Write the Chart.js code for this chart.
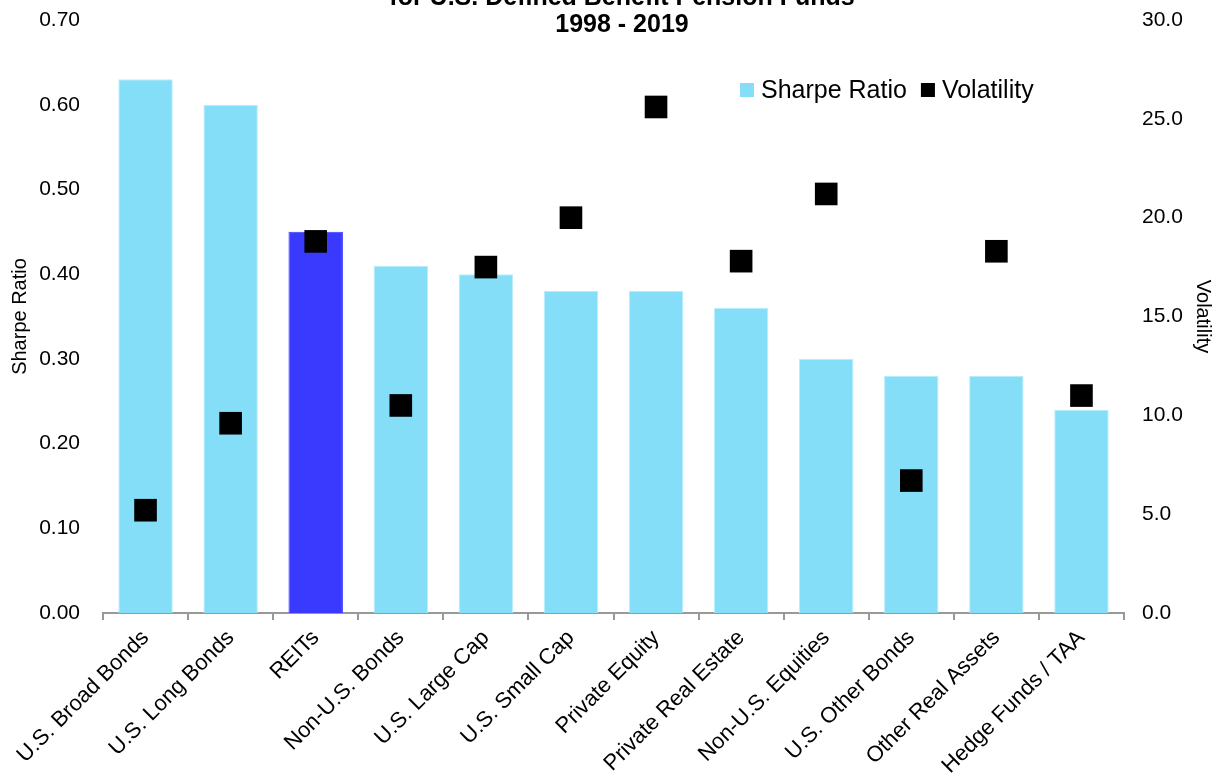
<!DOCTYPE html>
<html>
<head>
<meta charset="utf-8">
<script src="https://cdn.jsdelivr.net/npm/chart.js@4"></script>
<style>
  html, body { margin: 0; padding: 0; background: #fff; }
  #wrap { width: 1217px; height: 774px; position: relative; }
</style>
</head>
<body>
<div id="wrap"><canvas id="c" width="1217" height="774"></canvas></div>
<script>
// ---- data ----
const categories = ['U.S. Broad Bonds', 'U.S. Long Bonds', 'REITs', 'Non-U.S. Bonds', 'U.S. Large Cap',
  'U.S. Small Cap', 'Private Equity', 'Private Real Estate', 'Non-U.S. Equities', 'U.S. Other Bonds',
  'Other Real Assets', 'Hedge Funds / TAA'];
const sharpeRatio = [0.63, 0.60, 0.45, 0.41, 0.40, 0.38, 0.38, 0.36, 0.30, 0.28, 0.28, 0.24];
const volatility = [5.2, 9.6, 18.8, 10.5, 17.5, 20.0, 25.6, 17.8, 21.2, 6.7, 18.3, 11.0];
const titleLines = ['for U.S. Defined Benefit Pension Funds', '1998 - 2019'];
const seriesNames = ['Sharpe Ratio', 'Volatility'];
const highlightCategory = 'REITs';

const FONT = '"Liberation Sans", Arial, sans-serif';
const BAR = '#84DEF7';
const BAR_HI = '#3A3AFF';
const MARK = '#000000';

const titlePlugin = {
  id: 'overlayTitle',
  afterDraw(chart) {
    const ctx = chart.ctx;
    ctx.save();
    ctx.fillStyle = '#000';
    ctx.font = 'bold 25px ' + FONT;
    ctx.textAlign = 'center';
    ctx.textBaseline = 'alphabetic';
    ctx.fillText(titleLines[0], 622, 5);
    ctx.fillText(titleLines[1], 622, 32);
    ctx.restore();
  }
};

const legendPlugin = {
  id: 'overlayLegend',
  afterDraw(chart) {
    const ctx = chart.ctx;
    ctx.save();
    ctx.font = '25px ' + FONT;
    ctx.textBaseline = 'alphabetic';
    ctx.textAlign = 'left';
    const colors = [BAR, MARK];
    let x = 740;
    seriesNames.forEach((name, i) => {
      ctx.fillStyle = colors[i];
      ctx.fillRect(x, 83, 14, 14);
      x += 14 + 7;
      ctx.fillStyle = '#000';
      ctx.fillText(name, x, 98);
      x += ctx.measureText(name).width + 14;
    });
    ctx.restore();
  }
};

new Chart(document.getElementById('c'), {
  type: 'bar',
  data: {
    labels: categories,
    datasets: [
      {
        label: seriesNames[0],
        data: sharpeRatio,
        yAxisID: 'y',
        order: 1,
        backgroundColor: (c) => categories[c.dataIndex] === highlightCategory ? BAR_HI : BAR,
        borderColor: (c) => categories[c.dataIndex] === highlightCategory ? BAR_HI : '#B9EDFB',
        borderWidth: 1,
        categoryPercentage: 1.0,
        barPercentage: 0.64
      },
      {
        label: seriesNames[1],
        type: 'line',
        data: volatility,
        yAxisID: 'y1',
        order: 0,
        showLine: false,
        clip: false,
        borderWidth: 0,
        pointStyle: 'rect',
        pointRadius: 16,
        pointHoverRadius: 16,
        pointBorderWidth: 0,
        pointBackgroundColor: MARK,
        backgroundColor: MARK,
        borderColor: MARK
      }
    ]
  },
  options: {
    responsive: false,
    animation: false,
    devicePixelRatio: 1,
    layout: { autoPadding: false, padding: { top: 20, left: 0, right: 0, bottom: 0 } },
    plugins: {
      legend: { display: false },
      title: { display: false },
      tooltip: { enabled: false }
    },
    scales: {
      x: {
        offset: true,
        grid: { display: true, drawOnChartArea: false, drawTicks: true, tickLength: 7, color: '#999', offset: true, lineWidth: 2 },
        border: { display: true, color: '#999', width: 2 },
        ticks: {
          color: '#000', font: { family: FONT, size: 22 },
          maxRotation: 45, minRotation: 45, padding: 5, autoSkip: false
        },
        afterFit(s) { s.height = 161; }
      },
      y: {
        position: 'left',
        min: 0, max: 0.7,
        grid: { display: false, drawTicks: false },
        border: { display: false },
        ticks: {
          stepSize: 0.1, color: '#000', font: { family: FONT, size: 21 }, padding: 23,
          callback: (v) => Number(v).toFixed(2)
        },
        title: { display: true, text: seriesNames[0], color: '#000', font: { family: FONT, size: 20 }, padding: { top: 8, bottom: 0 } },
        afterFit(s) { s.width = 103; s.paddingTop = 0; }
      },
      y1: {
        position: 'right',
        min: 0, max: 30,
        grid: { display: false, drawTicks: false },
        border: { display: false },
        ticks: {
          stepSize: 5, color: '#000', font: { family: FONT, size: 21 }, padding: 18,
          callback: (v) => Number(v).toFixed(1)
        },
        title: { display: true, text: seriesNames[1], color: '#000', font: { family: FONT, size: 20 }, padding: { top: 2, bottom: 0 } },
        afterFit(s) { s.width = 93; s.paddingTop = 0; }
      }
    }
  },
  plugins: [titlePlugin, legendPlugin]
});
</script>
</body>
</html>
